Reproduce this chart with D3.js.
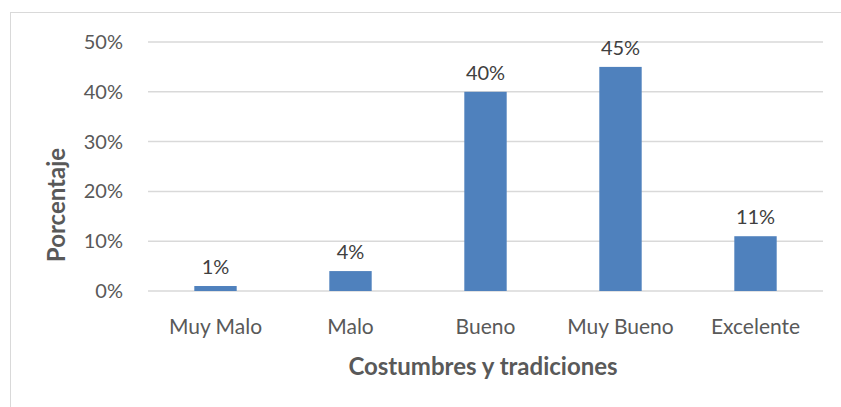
<!DOCTYPE html>
<html>
<head>
<meta charset="utf-8">
<script src="https://cdn.jsdelivr.net/npm/d3@7"></script>
<style>
  body { margin: 0; background: #fff; }
  svg { display: block; font-family: Lato, "Open Sans", sans-serif; }
</style>
</head>
<body>
<div id="chart"></div>
<script>
const categories = ["Muy Malo", "Malo", "Bueno", "Muy Bueno", "Excelente"];
const values = [1, 4, 40, 45, 11];
const yTicks = [0, 10, 20, 30, 40, 50];

const W = 841, H = 407;
const margin = { top: 42, right: 18, bottom: 116, left: 148 };
const width = W - margin.left - margin.right;
const height = H - margin.top - margin.bottom;

const svg = d3.select("#chart")
    .append("svg")
    .attr("width", W)
    .attr("height", H);

// chart frame
svg.append("rect")
    .attr("x", 10.5).attr("y", 12.5)
    .attr("width", W).attr("height", H)
    .attr("fill", "none")
    .attr("stroke", "#d9d9d9")
    .attr("stroke-width", 1);

const g = svg.append("g")
    .attr("transform", `translate(${margin.left},${margin.top})`);

const x = d3.scaleBand()
    .domain(categories)
    .range([0, width])
    .paddingInner(0.686)
    .paddingOuter(0.343);

const y = d3.scaleLinear()
    .domain([0, 50])
    .range([height, 0]);

// gridlines
g.selectAll(".grid")
    .data(yTicks)
    .enter()
    .append("line")
    .attr("x1", 0)
    .attr("x2", width)
    .attr("y1", d => y(d))
    .attr("y2", d => y(d))
    .attr("stroke", "#d9d9d9")
    .attr("stroke-width", 1.5);

// y axis labels
const yAxis = g.append("g")
    .call(d3.axisLeft(y).tickValues(yTicks).tickFormat(d => d + "%").tickSize(0).tickPadding(25));
yAxis.select(".domain").remove();
yAxis.selectAll("text")
    .attr("fill", "#595959")
    .style("font-size", "20px")
    .style("font-family", "Lato, sans-serif");

// bars
g.selectAll(".bar")
    .data(values)
    .enter()
    .append("rect")
    .attr("x", (d, i) => x(categories[i]))
    .attr("y", d => y(d))
    .attr("width", x.bandwidth())
    .attr("height", d => y(0) - y(d))
    .attr("fill", "#4f81bd");

// data labels
g.selectAll(".lbl")
    .data(values)
    .enter()
    .append("text")
    .attr("x", (d, i) => x(categories[i]) + x.bandwidth() / 2)
    .attr("y", d => y(d) - 12)
    .attr("text-anchor", "middle")
    .attr("fill", "#404040")
    .style("font-size", "20px")
    .text(d => d + "%");

// x axis labels
const xAxis = g.append("g")
    .attr("transform", `translate(0,${height})`)
    .call(d3.axisBottom(x).tickSize(0).tickPadding(28));
xAxis.select(".domain").remove();
xAxis.selectAll("text")
    .attr("fill", "#595959")
    .style("font-size", "21px")
    .style("font-family", "Lato, sans-serif");

// axis titles
svg.append("text")
    .attr("x", 483)
    .attr("y", 375)
    .attr("text-anchor", "middle")
    .attr("fill", "#595959")
    .style("font-size", "24px")
    .style("font-weight", "bold")
    .text("Costumbres y tradiciones");

svg.append("text")
    .attr("transform", "translate(65,205) rotate(-90)")
    .attr("text-anchor", "middle")
    .attr("fill", "#595959")
    .style("font-size", "24px")
    .style("font-weight", "bold")
    .text("Porcentaje");
</script>
</body>
</html>
